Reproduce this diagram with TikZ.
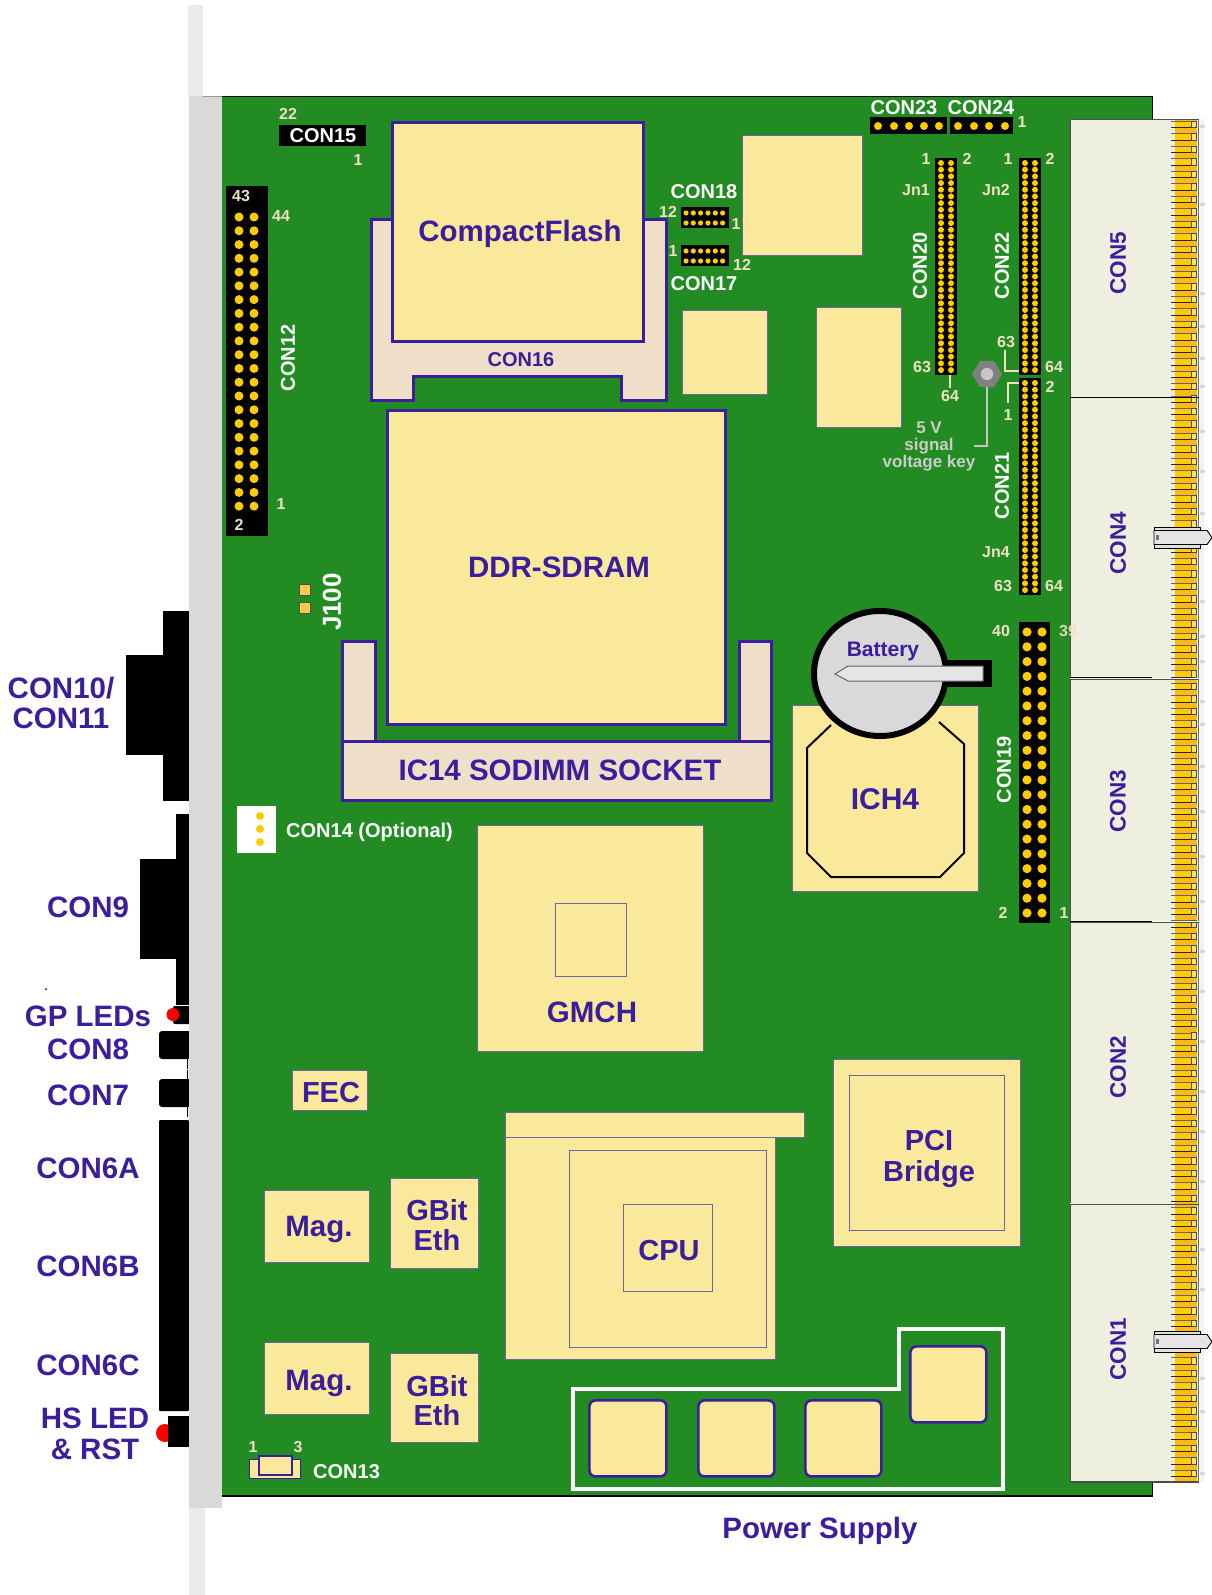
\documentclass[tikz,border=0pt]{standalone}
\usepackage{fontspec}
\setmainfont{Liberation Sans}
\definecolor{pcb}{HTML}{228B22}
\definecolor{chip}{HTML}{FAE99A}
\definecolor{ink}{HTML}{3A1E9E}
\definecolor{sock}{HTML}{F0DFC8}
\definecolor{modb}{HTML}{EFEFDF}
\definecolor{gold}{HTML}{FFCC00}
\definecolor{orng}{HTML}{FFB914}
\definecolor{wheatc}{HTML}{EFE0C4}
\definecolor{platec}{HTML}{D9D9D9}
\definecolor{thinb}{HTML}{7064A8}
\tikzset{
  sz/.style={font=\fontsize{#1}{#1}\selectfont\bfseries},
  ttl/.style={text=ink,inner sep=0pt,sz=#1},
  wt/.style={text=white,inner sep=0pt,sz=#1},
  num/.style={text=wheatc,inner sep=0pt,sz=16},
  nudge/.style={xshift=-.6pt,yshift=.6pt},
  chipbox/.style={fill=chip,draw=thinb,line width=1.1pt,nudge},
  thick chip/.style={fill=chip,draw=ink,line width=2.6pt,nudge},
  sockbox/.style={fill=sock,draw=ink,line width=2.6pt,nudge},
  vrchip/.style={fill=chip,draw=ink,line width=2.6pt,rounded corners=6pt,nudge},
  blk/.style={fill=black},
}
\begin{document}
\begin{tikzpicture}[x=1pt,y=-1pt]
\useasboundingbox (0,0) rectangle (1212,1595);
\fill[white] (0,0) rectangle (1212,1595);
% front connectors
\fill[blk] (163,611) rectangle (189,801);
\fill[blk] (126,655) rectangle (163,755);
\fill[blk] (176,814) rectangle (189,1005);
\fill[blk] (140,859) rectangle (176,959);
\fill[blk,rounded corners=2pt] (173,1006) rectangle (192,1024);
\fill[blk,rounded corners=3pt] (159,1031) rectangle (194,1059);
\fill[blk,rounded corners=3pt] (159,1079) rectangle (194,1107);
\fill[blk,rounded corners=1pt] (159,1120) rectangle (189,1411);
\fill[red] (165,1433) circle (9);
\fill[blk] (168,1416) rectangle (189,1447);
\fill[red] (173,1014.5) circle (6.5);
\draw[black,line width=.7pt] (187.5,1059) -- (187.5,1069) (187.5,1070) -- (187.5,1117);
\fill[black] (46,989) circle (1);
% faceplate
\fill[black!8] (188,5) rectangle (203,96);
\fill[black!8] (189,1508) rectangle (205,1595);
\fill[platec] (189,96) rectangle (222,1508);
\draw[black!40,line width=.6pt] (203,96) -- (222,96);
% board
\fill[pcb] (222,96) rectangle (1153,1496);
\draw[black,line width=1.6pt] (222,96.5) -- (1152.5,96.5) -- (1152.5,1496) -- (222,1496);
% edge modules
\fill[black!5] (1200,119) rectangle (1204,1482);
\foreach \yy in {125,203,292,325,357,385,430,470,512,600,635,660,700,723,765,810,855,900,950,990,1040,1090,1130,1180,1248,1288,1377,1410,1472}
  \fill[black!16] (1200,\yy) rectangle (1205,\yy+3);
\foreach \ya/\yb in {119/397,397/678,679/921,922/1203,1204/1482}
  \draw[modb,fill=modb] (1070,\ya) rectangle (1198,\yb);
\fill[orng] (1175,119) rectangle (1197,1482);
\foreach \k in {0,...,108}{
  \pgfmathsetmacro\ty{121+12.49*\k}
  \fill[gold] (1175,\ty) rectangle (1191,\ty+6.5);
  \draw[black!60,line width=.55pt] (1171,\ty) -- (1191,\ty);
  \draw[black!85,line width=.6pt] (1171,\ty+6.5) -- (1196,\ty+6.5);
  \draw[black!70,line width=.6pt,fill=white!40!gold] (1191,\ty) rectangle (1196,\ty+6.5);
}
\draw[black!55,line width=1.6pt] (1198.5,119) -- (1198.5,1482);
\foreach \ya/\yb in {119/397,397/678,679/921,922/1203,1204/1482}
  \draw[black!70,line width=1pt] (1070,\yb) -- (1070,\ya) -- (1199,\ya);
\draw[black!70,line width=1.2pt] (1070,1482) -- (1199,1482);
\draw[black,line width=.8pt] (1070,397) -- (1199,397);
\draw[white,line width=1.2pt] (1152,678.7) -- (1200,678.7) (1152,921.5) -- (1200,921.5);
\draw[black,line width=.8pt] (1070,677.5) -- (1152,677.5) (1070,921) -- (1152,921);
% retention tabs
\foreach \yt in {527,1331}{
  \draw[black,line width=.9pt,fill=black!12] (1154,\yt) rectangle (1200,\yt+21);
  \draw[black,line width=.9pt,fill=black!10] (1154,\yt+3.5) -- (1207,\yt+3.5) -- (1212,\yt+10.5) -- (1207,\yt+17.5) -- (1154,\yt+17.5) -- cycle;
  \fill[black!55] (1156,\yt+8) rectangle (1159,\yt+13);
}
\node[ttl=22.5,rotate=90] (con5) at (1118,263) {CON5};
\node[ttl=22.5,rotate=90] (con4) at (1118,543) {CON4};
\node[ttl=22.5,rotate=90] (con3) at (1118,801) {CON3};
\node[ttl=22.5,rotate=90] (con2) at (1118,1067) {CON2};
\node[ttl=22.5,rotate=90] (con1) at (1118,1349) {CON1};
% yellow squares
\draw[chipbox] (743,136) rectangle (863,256);
\draw[chipbox] (683,311) rectangle (768,395);
\draw[chipbox] (817,308) rectangle (902,428);
% CON16 + CF
\draw[sockbox] (372,220) -- (372,401) -- (414,401) -- (414,377) -- (622,377) -- (622,401) -- (667,401) -- (667,220) -- cycle;
\draw[thick chip] (393,123) rectangle (644,342);
\node[ttl=29.5] (cf) at (520,234) {CompactFlash};
\node[ttl=20] (con16) at (521,360) {CON16};
% SODIMM
\draw[sockbox] (343,642) rectangle (376,742);
\draw[sockbox] (740,642) rectangle (772,742);
\draw[sockbox] (343,742) rectangle (772,801);
\draw[thick chip] (388,411) rectangle (726,725);
\node[ttl=29.5] (ddr) at (559,567) {DDR-SDRAM};
\node[ttl=29.5] (sodimm) at (560,770) {IC14 SODIMM SOCKET};
% ICH4
\draw[chipbox] (793,706) rectangle (979,892);
\draw[black,line width=2pt] (939,722) -- (964,744) -- (964,853) -- (940,877) -- (831,877) -- (807,853) -- (807,748) -- (831,725);
\node[ttl=30] (ich) at (885,799) {ICH4};
% battery
\fill[black] (930,660) rectangle (992,687);
\draw[black,line width=6pt,fill=platec] (880,673.5) ellipse (66 and 62.5);
\draw[black!60,line width=1pt,fill=black!10] (848,666) -- (983,666) -- (983,681) -- (848,681) -- (835,674) -- cycle;
\node[ttl=21] (bat) at (883,651) {Battery};
% GMCH
\draw[chipbox] (478,826) rectangle (704,1052);
\draw[chipbox] (556,904) rectangle (627,977);
\node[ttl=29.5] (gmch) at (592,1012) {GMCH};
% FEC, Mag, GBit
\draw[chipbox] (293,1071) rectangle (368,1111);
\node[ttl=29] (fec) at (331,1093) {FEC};
\draw[chipbox] (265,1191) rectangle (370,1263);
\node[ttl=29.5] (mag1) at (319,1229) {Mag.};
\draw[chipbox] (265,1343) rectangle (370,1415);
\node[ttl=29.5] (mag2) at (319,1383) {Mag.};
\draw[chipbox] (391,1179) rectangle (479,1269);
\node[ttl=29] (ge1a) at (437,1210) {GBit};
\node[ttl=29] (ge1b) at (437,1240) {Eth};
\draw[chipbox] (391,1354) rectangle (479,1443);
\node[ttl=29] (ge2a) at (437,1386) {GBit};
\node[ttl=29] (ge2b) at (437,1415) {Eth};
% CPU
\draw[chipbox] (506,1113) rectangle (805,1138);
\draw[chipbox] (506,1138) rectangle (776,1360);
\draw[chipbox] (570,1151) rectangle (767,1348);
\draw[chipbox] (624,1205) rectangle (713,1292);
\node[ttl=29] (cpu) at (669,1251) {CPU};
% PCI
\draw[chipbox] (834,1060) rectangle (1021,1247);
\draw[chipbox] (850,1076) rectangle (1005,1231);
\node[ttl=29] (pcia) at (929,1141) {PCI};
\node[ttl=29] (pcib) at (929,1174) {Bridge};
% Power
\draw[white,line width=4pt,line join=miter] (573,1389) -- (899,1389) -- (899,1329) -- (1003,1329) -- (1003,1489) -- (573,1489) -- cycle;
\draw[vrchip] (590,1401) rectangle (667,1477);
\draw[vrchip] (699,1401) rectangle (775,1477);
\draw[vrchip] (806,1401) rectangle (882,1477);
\draw[vrchip] (911,1347) rectangle (987,1423);
\node[ttl=29.5] (psu) at (820,1531) {Power Supply};
% CON13
\draw[chipbox,draw=ink,line width=1.2pt] (250,1460) rectangle (301,1479);
\draw[chip,fill=chip,draw=ink,line width=2.2pt] (259,1456) rectangle (292,1475);
\node[num] (c13a) at (253,1447) {1};
\node[num] (c13b) at (298,1447) {3};
\node[wt=20,anchor=west] (c13) at (313,1472) {CON13};
% CON15
\fill[blk] (279,125) rectangle (366,146);
\node[wt=20] (c15) at (323,136) {CON15};
\node[num] (c15a) at (288,114) {22};
\node[num] (c15b) at (358,160) {1};
% CON12
\fill[blk] (226,186) rectangle (268,536);
\foreach \k in {0,...,21}{
  \fill[gold] (239,217+13.77*\k) circle (4.5);
  \fill[gold] (254,217+13.77*\k) circle (4.5);
}
\node[num] (c12a) at (241,196) {43};
\node[num] (c12b) at (281,216) {44};
\node[num] (c12c) at (281,504) {1};
\node[num] (c12d) at (239,525) {2};
\node[wt=20,rotate=90] (c12) at (288,358) {CON12};
% J100
\draw[black!70,line width=1pt,fill=orange!60!yellow!70!white] (299,584) rectangle (310,595);
\draw[black!70,line width=1pt,fill=orange!60!yellow!70!white] (299,602) rectangle (310,613);
\node[wt=26,rotate=90] (j100) at (332,602) {J100};
% CON14
\fill[white] (237,806) rectangle (276,853);
\foreach \yy in {816,829,842} \fill[gold] (260,\yy) circle (4);
\node[wt=20,anchor=west] (c14) at (286,832) {CON14 (Optional)};
% CON17/18
\fill[blk] (681,207) rectangle (729,228);
\fill[blk] (681,245) rectangle (729,266);
\foreach \xx in {686,693.3,700.6,708,715.3,722.6}
  \foreach \yy in {213,223,251,261}
    \fill[gold] (\xx,\yy) circle (2.6);
\node[wt=20] (c18) at (704,192) {CON18};
\node[wt=20] (c17) at (704,284) {CON17};
\node[num] (c18a) at (668,212) {12};
\node[num] (c18b) at (736,224) {1};
\node[num] (c17a) at (673,251) {1};
\node[num] (c17b) at (742,265) {12};
% CON23/24
\fill[blk] (870,117) rectangle (947,134);
\fill[blk] (950,117) rectangle (1013,134);
\foreach \xx in {878,894,909,924,939,958,974,989,1005} \fill[gold] (\xx,126) circle (4);
\node[wt=20] (c23) at (904,108) {CON23};
\node[wt=20] (c24) at (981,108) {CON24};
\node[num] (c24a) at (1022,122) {1};
% high density connectors
\fill[blk] (935,158) rectangle (957,375);
\fill[blk] (1019,158) rectangle (1041,375);
\fill[blk] (1019,378) rectangle (1041,595);
\foreach \k in {0,...,31}{
  \fill[gold] (941,163+6.68*\k) circle (3);
  \fill[gold] (951,163+6.68*\k) circle (3);
  \fill[gold] (1025,163+6.68*\k) circle (3);
  \fill[gold] (1035,163+6.68*\k) circle (3);
  \fill[gold] (1025,383+6.68*\k) circle (3);
  \fill[gold] (1035,383+6.68*\k) circle (3);
}
\node[num] (n1) at (926,159) {1};
\node[num] (n2) at (967,159) {2};
\node[num] (n3) at (1008,159) {1};
\node[num] (n4) at (1050,159) {2};
\node[num] (jn1) at (916,190) {Jn1};
\node[num] (jn2) at (996,190) {Jn2};
\node[wt=20,rotate=90] (c20) at (920,266) {CON20};
\node[wt=20,rotate=90] (c22) at (1002,266) {CON22};
\node[num] (n5) at (922,367) {63};
\node[num] (n6) at (950,396) {64};
\node[num] (n7) at (1006,342) {63};
\node[num] (n8) at (1054,367) {64};
\node[num] (n9) at (1050,387) {2};
\node[num] (n10) at (1008,415) {1};
\coordinate (t1) at (950,375);
\coordinate (t2) at (950,388);
\draw[wheatc,line width=2.2pt] (t1) -- (t2);
\draw[wheatc,line width=2pt] (1005,350) -- (1005,371) -- (1019,371);
\draw[wheatc,line width=2pt] (1019,383) -- (1008,383) -- (1008,403);
% voltage key
\fill[black!50] (972,374) -- (980,361) -- (994,361) -- (1002,374) -- (994,387) -- (980,387) -- cycle;
\fill[black!22] (987,374) circle (6.2);
\draw[black!22,line width=2.4pt] (987,387) -- (987,446) -- (974,446);
\node[text=black!20,inner sep=0pt,sz=17] (v1) at (929,428) {5 V};
\node[text=black!20,inner sep=0pt,sz=17] (v2) at (929,446) {signal};
\node[text=black!20,inner sep=0pt,sz=17] (v3) at (929,463) {voltage key};
\node[wt=20,rotate=90] (c21) at (1002,486) {CON21};
\node[num] (jn4) at (996,552) {Jn4};
\node[num] (n11) at (1003,586) {63};
\node[num] (n12) at (1054,586) {64};
% CON19
\fill[blk] (1019,622) rectangle (1050,923);
\foreach \k in {0,...,19}{
  \fill[gold] (1027,632+14.79*\k) circle (4.6);
  \fill[gold] (1042,632+14.79*\k) circle (4.6);
}
\node[num] (n13) at (1001,631) {40};
\node[num,opacity=.9] (n14) at (1068,631) {39};
\node[num] (n15) at (1003,913) {2};
\node[num] (n16) at (1064,913) {1};
\node[wt=20,rotate=90] (c19) at (1004,770) {CON19};
% left labels
\node[ttl=29.5] (l1) at (61,688) {CON10/};
\node[ttl=29.5] (l2) at (61,718) {CON11};
\node[ttl=29.5] (l3) at (88,907) {CON9};
\node[ttl=29.5] (l4) at (88,1016) {GP LEDs};
\node[ttl=29.5] (l5) at (88,1049) {CON8};
\node[ttl=29.5] (l6) at (88,1095) {CON7};
\node[ttl=29.5] (l7) at (88,1168) {CON6A};
\node[ttl=29.5] (l8) at (88,1266) {CON6B};
\node[ttl=29.5] (l9) at (88,1365) {CON6C};
\node[ttl=29.5] (l10) at (95,1418) {HS LED};
\node[ttl=29.5] (l11) at (95,1449) {\& RST};
\end{tikzpicture}
\end{document}
